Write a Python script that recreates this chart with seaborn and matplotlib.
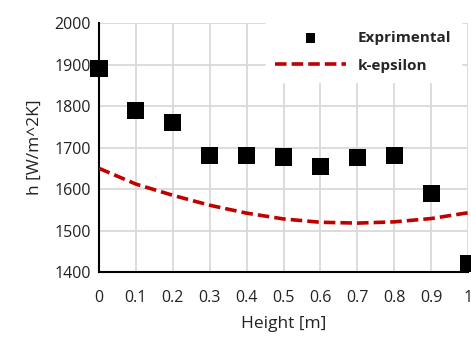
import matplotlib
matplotlib.use("Agg")
import matplotlib.pyplot as plt
import seaborn as sns
import pandas as pd

# Data
height = [0.0, 0.1, 0.2, 0.3, 0.4, 0.5, 0.6, 0.7, 0.8, 0.9, 1.0]
h_exp = [1890, 1790, 1760, 1680, 1680, 1677, 1655, 1676, 1680, 1590, 1420]
h_keps = [1650, 1612, 1585, 1561, 1542, 1528, 1520, 1518, 1521, 1529, 1543]

x_ticks = [0, 0.1, 0.2, 0.3, 0.4, 0.5, 0.6, 0.7, 0.8, 0.9, 1]
x_tick_labels = ["0", "0.1", "0.2", "0.3", "0.4", "0.5", "0.6", "0.7", "0.8", "0.9", "1"]
y_ticks = [1400, 1500, 1600, 1700, 1800, 1900, 2000]

sns.set_style("white")
plt.rcParams["font.family"] = ["Open Sans", "DejaVu Sans"]

df = pd.DataFrame({"Height": height, "exp": h_exp, "keps": h_keps})

fig = plt.figure(figsize=(4.71, 3.38), dpi=100)
ax = fig.add_axes([0.210, 0.195, 0.784, 0.737])

ax.grid(True, color="#d9d9d9", linewidth=1.3)
ax.set_axisbelow(True)

sns.lineplot(data=df, x="Height", y="keps", ax=ax, color="#c00000",
             linewidth=2.6, linestyle=(0, (3.2, 1.4)), label="k-epsilon", zorder=3)
sns.scatterplot(data=df, x="Height", y="exp", ax=ax, color="black", marker="s",
                s=155, edgecolor="none", label="Exprimental", clip_on=False, zorder=4)

ax.set_xlim(0, 1)
ax.set_ylim(1400, 2000)
ax.set_xticks(x_ticks)
ax.set_xticklabels(x_tick_labels)
ax.set_yticks(y_ticks)
ax.tick_params(axis="x", length=0, labelsize=11.5, colors="#222222", pad=13)
ax.tick_params(axis="y", length=0, labelsize=11.5, colors="#222222", pad=6)

for side in ["top", "right"]:
    ax.spines[side].set_visible(False)
for side in ["left", "bottom"]:
    ax.spines[side].set_color("black")
    ax.spines[side].set_linewidth(1.5)

ax.set_xlabel("Height [m]", fontsize=12.5, color="#222222", labelpad=7)
ax.set_ylabel("h [W/m^2K]", fontsize=12.5, color="#222222", labelpad=8)

handles, labels = ax.get_legend_handles_labels()
order = [labels.index("Exprimental"), labels.index("k-epsilon")]
leg = ax.legend([handles[i] for i in order], [labels[i] for i in order],
                loc="upper right", bbox_to_anchor=(1.0, 1.035), frameon=True,
                fancybox=False, framealpha=1, edgecolor="white",
                prop={"weight": "bold", "size": 11}, handlelength=4.6,
                markerscale=0.55, borderpad=0.6, labelspacing=0.9)
leg.set_zorder(5)

fig.savefig("out.png", dpi=100)
